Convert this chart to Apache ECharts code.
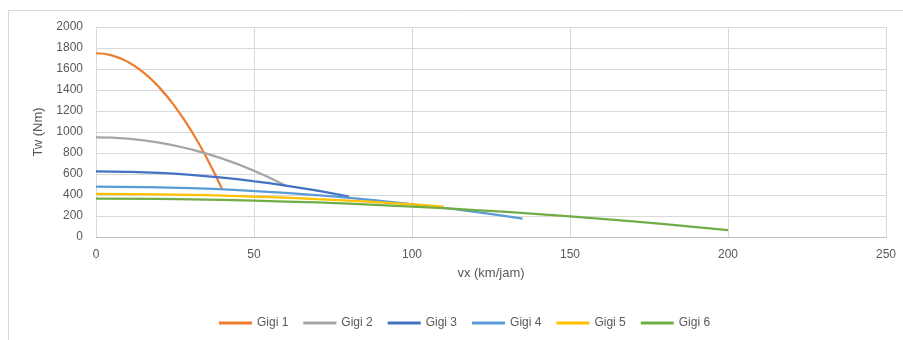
<!DOCTYPE html>
<html><head><meta charset="utf-8">
<script src="https://cdn.jsdelivr.net/npm/echarts@6/dist/echarts.min.js"></script>
<style>html,body{margin:0;padding:0;background:#fff}#c{width:903px;height:340px}</style>
</head><body><div id="c"></div>
<script>
const seriesNames = ['Gigi 1','Gigi 2','Gigi 3','Gigi 4','Gigi 5','Gigi 6'];
const colors = ['#ED7D31','#A5A5A5','#4472C4','#5B9BD5','#FFC000','#70AD47'];
const gigi1 = [[0,1750],[5,1730],[10,1669],[15,1567],[20,1425],[25,1242],[30,1019],[35,755],[40,450]];
const gigi2 = [[0,950],[10,937],[20,899],[30,835],[40,746],[50,631],[60,490]];
const gigi3 = [[0,625],[10,621],[20,610],[30,591],[40,565],[50,531],[60,490],[70,441],[80,385]];
const gigi4 = [[0,480],[15,476],[30,465],[45,446],[60,420],[75,386],[90,344],[105,295],[120,239],[135,175]];
const gigi5 = [[0,410],[10,409],[20,406],[30,401],[40,394],[50,385],[60,374],[70,361],[80,347],[90,330],[100,311],[110,290]];
const gigi6 = [[0,365],[20,362],[40,353],[60,338],[80,317],[100,290],[120,257],[140,218],[160,173],[180,122],[200,65]];
const allData = [gigi1,gigi2,gigi3,gigi4,gigi5,gigi6];
const font = 'Liberation Sans';
const chart = echarts.init(document.getElementById('c'));
chart.setOption({
  animation:false,
  color: colors,
  textStyle:{fontFamily:font},
  graphic:[{type:'rect',shape:{x:8.5,y:10.5,width:1000,height:400},style:{fill:'none',stroke:'#d9d9d9',lineWidth:1},silent:true}],
  grid:{left:96,right:17,top:27,bottom:103},
  legend:{bottom:6,left:214,itemWidth:33,itemHeight:3,itemGap:15,icon:'rect',
    textStyle:{fontFamily:font,fontSize:12,color:'#595959'},data:seriesNames},
  xAxis:{type:'value',min:0,max:250,interval:50,
    name:'vx (km/jam)',nameLocation:'middle',nameGap:30,nameTextStyle:{fontSize:13,color:'#595959'},
    axisLine:{lineStyle:{color:'#bfbfbf'}},axisTick:{show:false},
    axisLabel:{fontSize:12,color:'#595959',margin:12},
    splitLine:{lineStyle:{color:'#d9d9d9'}}},
  yAxis:{type:'value',min:0,max:2000,interval:200,
    name:'Tw (Nm)',nameLocation:'middle',nameGap:44,nameTextStyle:{fontSize:13,color:'#595959'},
    axisLine:{show:true,lineStyle:{color:'#d9d9d9'}},axisTick:{show:false},
    axisLabel:{fontSize:12,color:'#595959',margin:13,formatter:v=>String(v)},
    splitLine:{lineStyle:{color:'#d9d9d9'}}},
  series: allData.map((d,i)=>({name:seriesNames[i],type:'line',data:d,smooth:true,showSymbol:false,
    lineStyle:{width:2.25,color:colors[i]},itemStyle:{color:colors[i]}}))
});
</script></body></html>
